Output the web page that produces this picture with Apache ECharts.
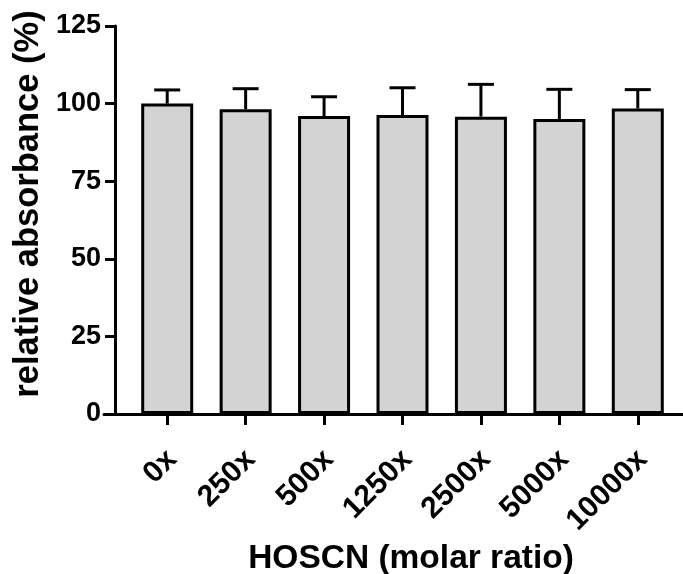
<!DOCTYPE html>
<html>
<head>
<meta charset="utf-8">
<script src="https://cdn.jsdelivr.net/npm/echarts@6/dist/echarts.min.js"></script>
<style>
html,body{margin:0;padding:0;background:#fff;}
#chart{width:683px;height:574px;}
</style>
</head>
<body>
<div id="chart"></div>
<script>
// ---- data ----
const categories = ['0x', '250x', '500x', '1250x', '2500x', '5000x', '10000x'];
const meanValues = [100.0, 98.2, 96.0, 96.3, 95.8, 95.0, 98.4];
const sdValues = [4.4, 6.6, 6.2, 8.8, 10.4, 9.6, 6.1];
const yTicks = [0, 25, 50, 75, 100, 125];
const xTitle = 'HOSCN (molar ratio)';
const yTitle = 'relative absorbance (%)';

const FONT = '"Liberation Sans", Arial, Helvetica, sans-serif';
const errData = categories.map((c, i) => [i, meanValues[i], meanValues[i] + sdValues[i]]);

const chart = echarts.init(document.getElementById('chart'), null, {renderer: 'canvas'});
chart.setOption({
  animation: false,
  backgroundColor: '#fff',
  grid: [
    {left: 128, right: 6, top: 26, bottom: 160, containLabel: false},
    {left: 104, right: 0, top: 26, bottom: 160, containLabel: false}
  ],
  xAxis: [
    {
      type: 'category', gridIndex: 0, data: categories,
      axisLine: {show: false},
      axisTick: {show: true, alignWithLabel: true, length: 11, lineStyle: {color: '#000', width: 3}},
      axisLabel: {
        rotate: 45, margin: 36, interval: 0,
        formatter: '{a|{value}}',
        rich: {a: {color: '#000', fontSize: 30, fontWeight: 'bold', fontFamily: FONT, lineHeight: 44, verticalAlign: 'bottom'}}
      }
    },
    {
      type: 'value', gridIndex: 1, min: 0, max: 1,
      axisLine: {show: true, onZero: false, lineStyle: {color: '#000', width: 3}},
      axisTick: {show: false}, axisLabel: {show: false}, splitLine: {show: false}
    }
  ],
  yAxis: [
    {
      type: 'value', gridIndex: 0, min: yTicks[0], max: yTicks[yTicks.length - 1], interval: 25,
      offset: 13,
      axisLine: {show: true, lineStyle: {color: '#000', width: 3}},
      axisTick: {show: true, length: 10, lineStyle: {color: '#000', width: 3}},
      axisLabel: {margin: 14, color: '#000', fontSize: 27, fontWeight: 'bold', fontFamily: FONT},
      splitLine: {show: false}
    },
    {
      type: 'value', gridIndex: 1, min: 0, max: 1, show: false
    }
  ],
  series: [
    {
      type: 'bar', xAxisIndex: 0, yAxisIndex: 0,
      data: meanValues,
      barWidth: 52,
      itemStyle: {color: '#d3d3d3', borderColor: '#000', borderWidth: 3},
      z: 2
    },
    {
      type: 'custom', xAxisIndex: 0, yAxisIndex: 0,
      data: errData,
      z: 1,
      renderItem: function (params, api) {
        const x = api.value(0);
        const base = api.coord([x, api.value(1)]);
        const top = api.coord([x, api.value(2)]);
        const half = 13;
        return {
          type: 'group',
          children: [
            {type: 'line', shape: {x1: base[0], y1: base[1], x2: top[0], y2: top[1]}, style: {stroke: '#000', lineWidth: 3}},
            {type: 'line', shape: {x1: top[0] - half, y1: top[1], x2: top[0] + half, y2: top[1]}, style: {stroke: '#000', lineWidth: 3}}
          ]
        };
      }
    }
  ],
  graphic: [
    {type: 'text', x: 411, y: 559, style: {text: xTitle, align: 'center', verticalAlign: 'middle', font: 'bold 33.5px ' + FONT, fill: '#000'}},
    {type: 'text', x: 28, y: 204, rotation: Math.PI / 2, style: {text: yTitle, align: 'center', verticalAlign: 'middle', font: 'bold 34.5px ' + FONT, fill: '#000'}}
  ]
});
</script>
</body>
</html>
